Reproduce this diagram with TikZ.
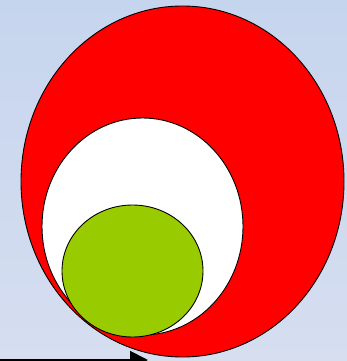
\documentclass[tikz,border=0pt]{standalone}
\usetikzlibrary{arrows.meta,shapes.geometric}
\begin{document}
\begin{tikzpicture}[x=1pt,y=-1pt,
  outline/.style={draw=black,line width=0.9pt},
  blob/.style={ellipse,outline,inner sep=0pt}]
\definecolor{bgtop}{RGB}{198,213,238}
\definecolor{bgbot}{RGB}{214,222,240}
\definecolor{redfill}{RGB}{255,0,0}
\definecolor{greenfill}{RGB}{153,204,0}
\useasboundingbox (0,0) rectangle (347,361);
\shade[top color=bgtop,bottom color=bgbot] (0,0) rectangle (347,361);
\node[blob,fill=redfill,minimum width=323pt,minimum height=351pt] (outer) at (182.5,181.5) {};
\node[blob,fill=white,minimum width=201pt,minimum height=217pt] (middle) at (142.5,226.5) {};
\node[blob,fill=greenfill,minimum width=141pt,minimum height=132pt] (inner) at (132.5,271) {};
\coordinate (astart) at (-2,360);
\coordinate (aend) at (148,360);
\draw[line width=2pt,-{Triangle[length=18pt,width=18pt]}] (astart) -- (aend);
\end{tikzpicture}
\end{document}
